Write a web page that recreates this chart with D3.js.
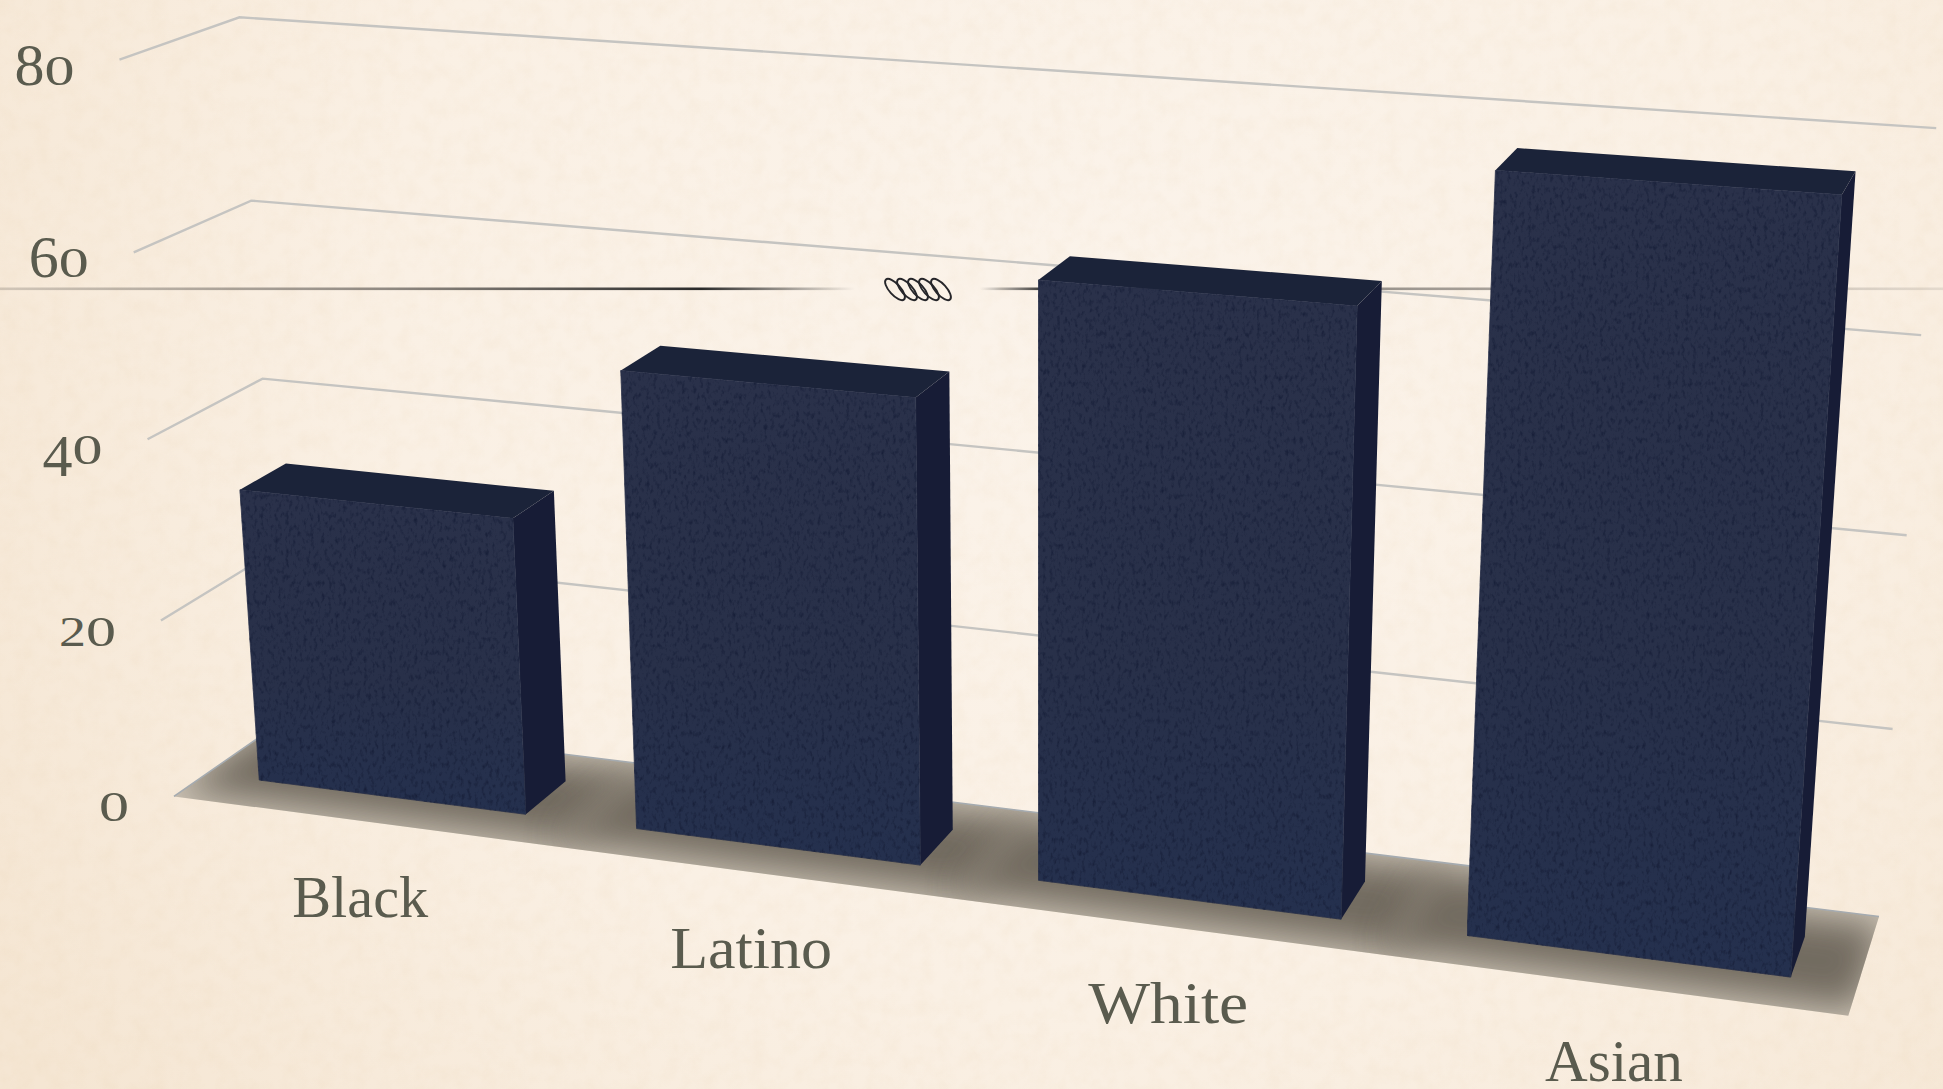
<!DOCTYPE html>
<html><head><meta charset="utf-8">
<script src="https://cdn.jsdelivr.net/npm/d3@7/dist/d3.min.js"></script>
<style>html,body{margin:0;padding:0;background:#f9f0e5;overflow:hidden}svg{display:block}</style>
</head><body><svg id="c" width="1943" height="1089"></svg>
<script>
// ---- data ----
const categories = ["Black","Latino","White","Asian"];
const values = [33, 50, 63, 77];
const yTicks = [0,20,40,60,80];
const yDomain = [0,80];

// ---- camera frame: [u, v, w] of the chart box -> observed pixel ----
const frame = [
 [0,80,1,239,17],[0,60,1,251.6,199.5],[0,40,1,262.7,378],[0,0,1,285,722],
 [1,80,1,1937,127.6],[1,60,1,1921,336],[1,40,1,1906,535],[1,20,1,1892,729],[1,0,1,1879,916],
 [0,80,0,120,61],[0,60,0,134,253],[0,40,0,146,440],[0,20,0,161,618],[0,0,0,174,796],
 [1,0,0,1849,1016]
];
const W=1943,H=1089;
const xScale=d3.scaleBand().domain(categories).range([0,1]).paddingInner(0.287).paddingOuter(0.143);
const yScale=d3.scaleLinear().domain(yDomain).range([0,1]);
const depth=[0.29,0.70];
const labelFit={Black:136,Latino:162,White:160,Asian:138};
const digitFit={"0":30,"2":27};

function solve(A,b){const n=b.length;const M=A.map((r,i)=>[...r,b[i]]);
 for(let i=0;i<n;i++){let p=i;for(let k=i+1;k<n;k++)if(Math.abs(M[k][i])>Math.abs(M[p][i]))p=k;
  [M[i],M[p]]=[M[p],M[i]];
  for(let k=0;k<n;k++){if(k===i)continue;const f=M[k][i]/M[i][i];for(let j=i;j<=n;j++)M[k][j]-=f*M[i][j];}}
 return M.map((r,i)=>r[n]/r[i]);}
const rows=[],rhs=[];
frame.forEach(([u,v0,w,x,y])=>{const v=v0/80,X=x/1000,Y=y/1000;
 rows.push([u,v,w,1,0,0,0,0,-X*u,-X*v,-X*w]);rhs.push(X);
 rows.push([0,0,0,0,u,v,w,1,-Y*u,-Y*v,-Y*w]);rhs.push(Y);});
const ATA=d3.range(11).map(i=>d3.range(11).map(j=>d3.sum(rows,r=>r[i]*r[j])));
const ATb=d3.range(11).map(i=>d3.sum(rows,(r,k)=>r[i]*rhs[k]));
const P=solve(ATA,ATb);
function project(u,v,w){const d=P[8]*u+P[9]*v+P[10]*w+1;
 return [1000*(P[0]*u+P[1]*v+P[2]*w+P[3])/d,1000*(P[4]*u+P[5]*v+P[6]*w+P[7])/d];}
const poly=pts=>d3.line()(pts.map(p=>project(...p)))+"Z";

const svg=d3.select("#c");
const defs=svg.append("defs");
// paper
const rg=defs.append("radialGradient").attr("id","paper").attr("gradientUnits","userSpaceOnUse")
 .attr("cx",1100).attr("cy",300).attr("r",1300);
[[0,"#fbf3ea"],[0.55,"#faf0e4"],[1,"#f5e6d3"]].forEach(s=>rg.append("stop").attr("offset",s[0]).attr("stop-color",s[1]));
const fp=defs.append("filter").attr("id","paperNoise").attr("x",0).attr("y",0).attr("width",1).attr("height",1).attr("color-interpolation-filters","sRGB");
fp.append("feTurbulence").attr("type","fractalNoise").attr("baseFrequency",0.06).attr("numOctaves",5).attr("seed",4);
fp.append("feColorMatrix").attr("values","0 0 0 0 0.86  0 0 0 0 0.74  0 0 0 0 0.56  0.6 0 0 0 -0.22");
// bar grain
const fg=defs.append("filter").attr("id","grain").attr("x",0).attr("y",0).attr("width",1).attr("height",1).attr("color-interpolation-filters","sRGB");
fg.append("feTurbulence").attr("type","fractalNoise").attr("baseFrequency","0.28 0.16").attr("numOctaves",3).attr("seed",8).attr("result","n");
fg.append("feColorMatrix").attr("in","n").attr("values","0 0 0 0 0.09  0 0 0 0 0.12  0 0 0 0 0.22  2.2 0 0 0 -1.1").attr("result","d");
fg.append("feComposite").attr("in","d").attr("in2","SourceAlpha").attr("operator","in").attr("result","dc");
const mg=fg.append("feMerge");mg.append("feMergeNode").attr("in","SourceGraphic");mg.append("feMergeNode").attr("in","dc");
const bf=defs.append("linearGradient").attr("id","barFront").attr("x1",0).attr("y1",0).attr("x2",0).attr("y2",1);
[[0,"#2a314a"],[0.6,"#283049"],[1,"#24304e"]].forEach(s=>bf.append("stop").attr("offset",s[0]).attr("stop-color",s[1]));
defs.append("filter").attr("id","blur").attr("x",-0.5).attr("y",-1).attr("width",2).attr("height",3)
 .append("feGaussianBlur").attr("stdDeviation",18);
defs.append("clipPath").attr("id","floorClip").append("path").attr("d",poly([[0,0,0],[1,0,0],[1,0,1],[0,0,1]]));
// divider gradients
const gl=defs.append("linearGradient").attr("id","divL").attr("gradientUnits","userSpaceOnUse").attr("x1",0).attr("x2",855).attr("y1",0).attr("y2",0);
[[0,"#4a4642",0.22],[0.45,"#4a4642",0.6],[0.82,"#2a2a2a",1],[1,"#2a2a2a",0]].forEach(s=>gl.append("stop").attr("offset",s[0]).attr("stop-color",s[1]).attr("stop-opacity",s[2]));
const gr=defs.append("linearGradient").attr("id","divR").attr("gradientUnits","userSpaceOnUse").attr("x1",980).attr("x2",1943).attr("y1",0).attr("y2",0);
[[0,"#2a2a2a",0],[0.07,"#2a2a2a",1],[0.42,"#5a5652",0.6],[1,"#4a4642",0.12]].forEach(s=>gr.append("stop").attr("offset",s[0]).attr("stop-color",s[1]).attr("stop-opacity",s[2]));

// background
svg.append("rect").attr("width",W).attr("height",H).attr("fill","url(#paper)");
svg.append("rect").attr("width",W).attr("height",H).attr("filter","url(#paperNoise)").attr("opacity",0.25);

// gridlines
const gridG=svg.append("g").attr("fill","none").attr("stroke","#c5c4c1").attr("stroke-width",2.4);
gridG.selectAll("path").data(yTicks.filter(t=>t>0)).join("path")
 .attr("d",t=>d3.line()([project(0,yScale(t),0),project(0,yScale(t),1),project(1,yScale(t),1)]));

// divider
svg.append("rect").attr("x",0).attr("y",287.5).attr("width",855).attr("height",2.6).attr("fill","url(#divL)");
svg.append("rect").attr("x",980).attr("y",287.5).attr("width",963).attr("height",2.6).attr("fill","url(#divR)");
const orn=svg.append("g").attr("fill","none").attr("stroke","#26262a").attr("stroke-width",1.9);
[895,907,918,929,941].forEach(cx=>orn.append("ellipse").attr("cx",cx).attr("cy",289.5).attr("rx",13.5).attr("ry",5.5)
  .attr("transform",`rotate(48 ${cx} 289.5)`));

// floor + shadow
svg.append("path").attr("d",poly([[0,0,0],[1,0,0],[1,0,1],[0,0,1]])).attr("fill","#cfc6b8");
const shadow=svg.append("g").attr("clip-path","url(#floorClip)");
shadow.selectAll("path").data(categories).join("path").attr("filter","url(#blur)").attr("fill","#6b6358").attr("opacity",0.92)
 .attr("d",c=>{const a=xScale(c)-0.04,b=xScale(c)+xScale.bandwidth()+0.04;return poly([[a,0,0.06],[b,0,0.06],[b,0,0.92],[a,0,0.92]]);});
svg.append("path").attr("d",d3.line()([project(0,0,0),project(0,0,1),project(1,0,1)]))
 .attr("fill","none").attr("stroke","#a5abb0").attr("stroke-width",1.6);

// bars
const bars=svg.selectAll("g.bar").data(categories.map((c,i)=>({c,v:values[i]}))).join("g").attr("class","bar");
const [w0,w1]=depth;
const corners=d=>{const a=xScale(d.c),b=a+xScale.bandwidth(),t=yScale(d.v);return {a,b,t};};
bars.append("path").attr("fill","#171c36").attr("d",d=>{const {b,t}=corners(d);return poly([[b,0,w0],[b,0,w1],[b,t,w1],[b,t,w0]]);});
bars.append("path").attr("fill","#1b2339").attr("d",d=>{const {a,b,t}=corners(d);return poly([[a,t,w0],[b,t,w0],[b,t,w1],[a,t,w1]]);});
bars.append("path").attr("fill","url(#barFront)").attr("stroke","#283049").attr("stroke-width",0.8).attr("filter","url(#grain)").attr("d",d=>{const {a,b,t}=corners(d);return poly([[a,0,w0],[b,0,w0],[b,t,w0],[a,t,w0]]);});

// text
const ink="#5a5b4e",serif="'Liberation Serif',serif";
const small={"0":1,"1":1,"2":1},drop={"3":1,"4":1,"5":1,"7":1,"9":1};
const yLab=svg.append("g").attr("fill",ink).style("font-family",serif).attr("text-anchor","end");
yTicks.forEach(t=>{const p=project(0,yScale(t),0);
 const tx=yLab.append("text").attr("x",p[0]-45).attr("y",p[1]+25);
 let shift=0;
 String(t).split("").forEach(ch=>{const want=drop[ch]?12:0;
  const ts=tx.append("tspan").attr("dy",want-shift).style("font-size",small[ch]?"42px":"60px").text(ch);
  if(digitFit[ch]) ts.attr("textLength",digitFit[ch]).attr("lengthAdjust","spacingAndGlyphs");
  shift=want;});});
svg.append("g").attr("fill",ink).style("font-family",serif).style("font-size","60px").attr("text-anchor","middle")
 .selectAll("text").data(categories).join("text")
 .attr("x",c=>project(xScale(c)+xScale.bandwidth()/2,0,0)[0])
 .attr("y",c=>project(xScale(c)+xScale.bandwidth()/2,0,0)[1]+96)
 .attr("textLength",c=>labelFit[c]).attr("lengthAdjust","spacingAndGlyphs")
 .text(c=>c);
</script></body></html>
